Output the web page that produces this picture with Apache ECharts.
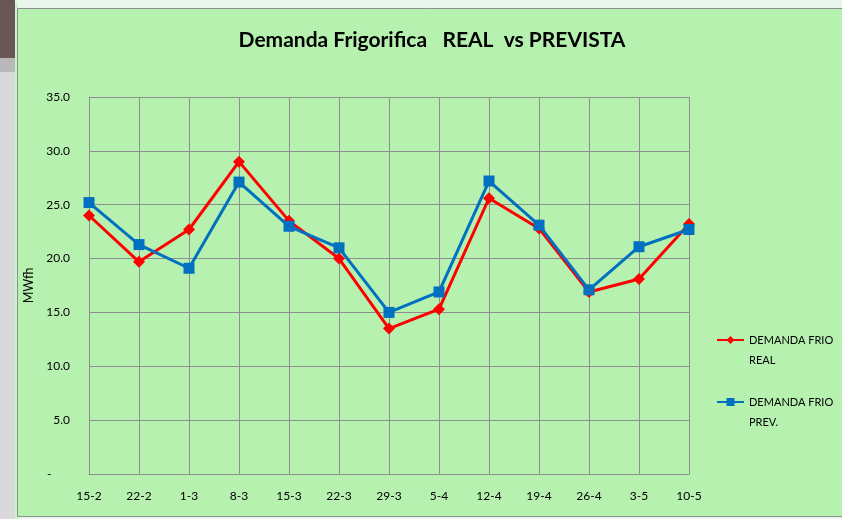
<!DOCTYPE html>
<html>
<head>
<meta charset="utf-8">
<script src="https://cdn.jsdelivr.net/npm/echarts@6/dist/echarts.min.js"></script>
<style>
html,body{margin:0;padding:0;background:#e9f5ec;}
#chart{width:842px;height:519px;}
</style>
</head>
<body>
<div id="chart"></div>
<script>
const categories = ['15-2','22-2','1-3','8-3','15-3','22-3','29-3','5-4','12-4','19-4','26-4','3-5','10-5'];
const realValues = [24.0, 19.7, 22.7, 29.0, 23.5, 20.0, 13.5, 15.3, 25.6, 22.8, 16.9, 18.1, 23.2];
const prevValues = [25.2, 21.3, 19.1, 27.1, 23.0, 21.0, 15.0, 16.9, 27.2, 23.1, 17.1, 21.1, 22.7];
const seriesNames = ['DEMANDA FRIO REAL', 'DEMANDA FRIO PREV.'];
const legendLabels = [' \nDEMANDA FRIO\nREAL', ' \nDEMANDA FRIO\nPREV.'];
const titleText = 'Demanda Frigorifica   REAL  vs PREVISTA';
const yAxisName = 'MWfh';

const font = 'Lato, "Open Sans", sans-serif';
const chart = echarts.init(document.getElementById('chart'), null, {renderer:'canvas'});
chart.setOption({
  backgroundColor: '#e9f5ec',
  animation: false,
  graphic: [
    {type:'rect', shape:{x:0,y:0,width:15,height:519}, style:{fill:'#d9d9d9'}, z:-10},
    {type:'rect', shape:{x:0,y:0,width:15,height:58}, style:{fill:'#6b5656'}, z:-9},
    {type:'rect', shape:{x:0,y:58,width:15,height:14}, style:{fill:'#b8b8b8'}, z:-9},
    {type:'rect', shape:{x:15,y:3,width:3,height:516}, style:{fill:'#c8f5c8'}, z:-9},
    {type:'rect', shape:{x:17.5,y:8.5,width:830,height:508}, style:{fill:'#b7f1b0', stroke:'#8e8e8e', lineWidth:1}, z:-8}
  ],
  title: {
    text: titleText,
    left: 427, top: 25, textAlign: 'center',
    textStyle: {fontFamily: font, fontSize: 21, fontWeight: 'bold', color: '#000'}
  },
  legend: {
    orient: 'vertical',
    left: 716, top: 310,
    padding: 0,
    itemGap: 2,
    itemWidth: 27, itemHeight: 10,
    data: seriesNames,
    formatter: function(name){ return legendLabels[seriesNames.indexOf(name)]; },
    textStyle: {fontFamily: font, fontSize: 11, color: '#000', lineHeight: 20}
  },
  grid: {left: 89, right: 153, top: 97, bottom: 45, containLabel: false},
  xAxis: {
    type: 'category',
    data: categories,
    boundaryGap: false,
    axisLine: {lineStyle: {color: '#8e8e8e', width: 1}},
    axisTick: {show: false},
    splitLine: {show: true, lineStyle: {color: '#8e8e8e', width: 1}},
    axisLabel: {fontFamily: font, fontSize: 12, color: '#000', margin: 16}
  },
  yAxis: {
    type: 'value',
    min: 0, max: 35, interval: 5,
    name: yAxisName,
    nameLocation: 'middle',
    nameGap: 49,
    nameRotate: 90,
    nameTextStyle: {fontFamily: font, fontSize: 12.5, color: '#000'},
    axisLine: {show: true, lineStyle: {color: '#8e8e8e', width: 1}},
    axisTick: {show: false},
    splitLine: {show: true, lineStyle: {color: '#8e8e8e', width: 1}},
    axisLabel: {
      fontFamily: font, fontSize: 12, color: '#000', margin: 19,
      formatter: function(v){ return v === 0 ? '-      ' : v.toFixed(1); }
    }
  },
  series: [
    {
      name: seriesNames[0], type: 'line', data: realValues,
      symbol: 'diamond', symbolSize: 12,
      lineStyle: {color: '#ff0000', width: 3},
      itemStyle: {color: '#ff0000'},
      z: 2
    },
    {
      name: seriesNames[1], type: 'line', data: prevValues,
      symbol: 'rect', symbolSize: 11,
      lineStyle: {color: '#0070c0', width: 3},
      itemStyle: {color: '#0070c0'},
      z: 3
    }
  ]
});
</script>
</body>
</html>
